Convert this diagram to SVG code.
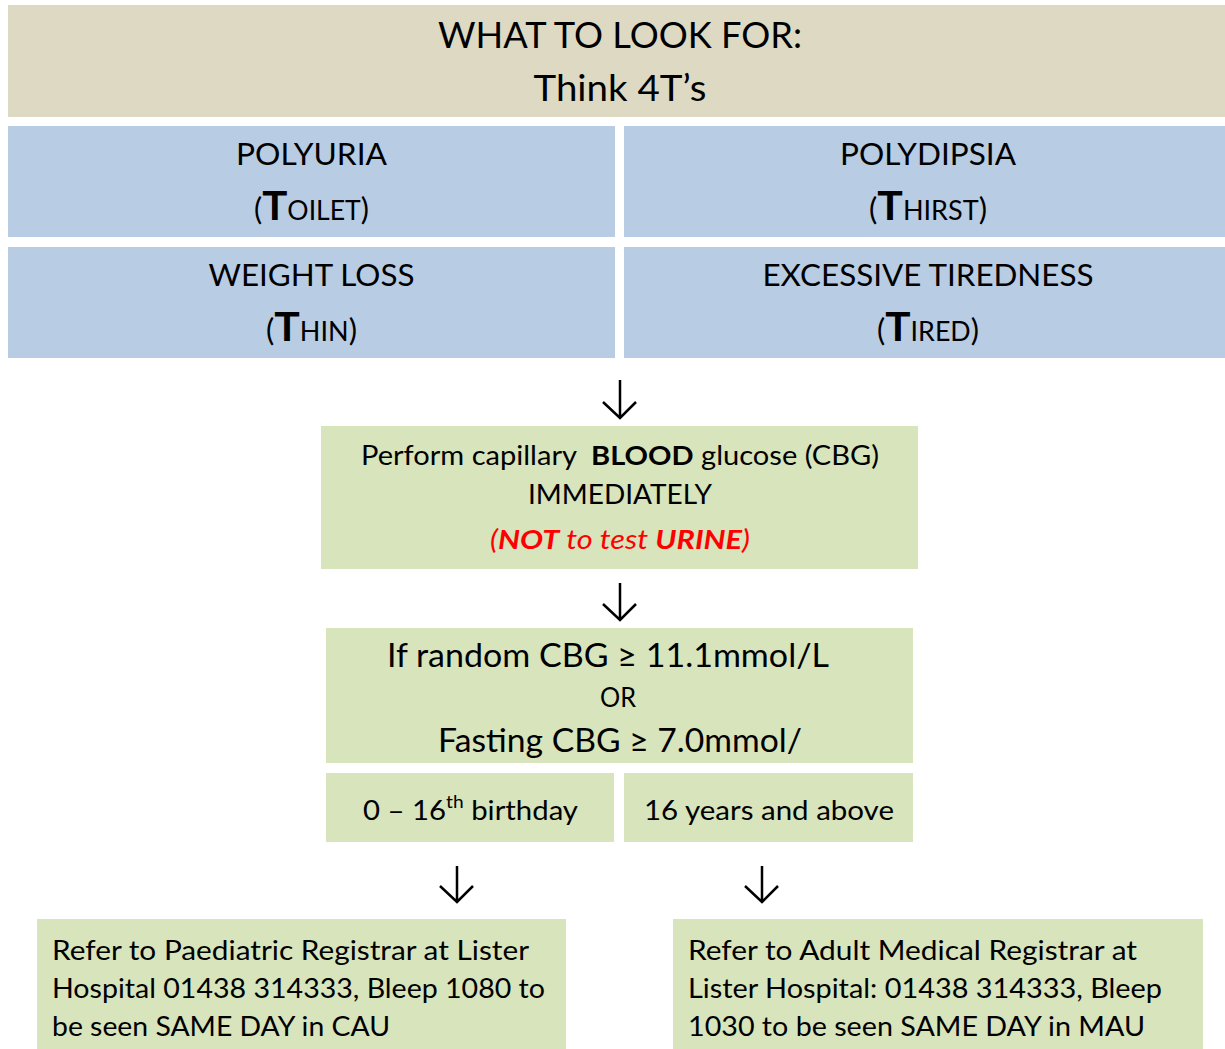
<svg xmlns="http://www.w3.org/2000/svg" width="1225" height="1049" viewBox="0 0 1225 1049">
<style>
text{font-family:Lato,"Open Sans","Liberation Sans",sans-serif;fill:#000;}
.c{text-anchor:middle;}
.hdr{fill:#DDD9C3;}
.blue{fill:#B8CCE4;}
.green{fill:#D7E4BC;}
.h{font-size:36px;}
.s{font-size:30px;}
.sc{font-size:26px;}
.bt{font-size:41px;font-weight:bold;}
.m{font-size:27px;}
.l{font-size:33px;}
.b{font-size:26px;}
.red{fill:#FF0000;font-style:italic;}
.arrow{fill:none;stroke:#000;stroke-width:2.5;stroke-linejoin:miter;}
</style>
<rect width="1225" height="1049" fill="#fff"/>
<g id="header">
<rect class="hdr" x="8" y="5" width="1217" height="112"/>
<text class="c h" x="620" y="48" textLength="364" lengthAdjust="spacingAndGlyphs">WHAT TO LOOK FOR:</text>
<text class="c h" x="620" y="101" textLength="173" lengthAdjust="spacingAndGlyphs">Think 4T’s</text>
</g>
<g id="polyuria">
<rect class="blue" x="8" y="126" width="607" height="111"/>
<text class="c s" x="311.5" y="165" textLength="151" lengthAdjust="spacingAndGlyphs">POLYURIA</text>
<text class="c s" x="311.5" y="220" textLength="115" lengthAdjust="spacingAndGlyphs">(<tspan class="bt">T</tspan><tspan class="sc">OILET</tspan>)</text>
</g>
<g id="polydipsia">
<rect class="blue" x="624" y="126" width="601" height="111"/>
<text class="c s" x="928" y="165" textLength="176" lengthAdjust="spacingAndGlyphs">POLYDIPSIA</text>
<text class="c s" x="928" y="220" textLength="118" lengthAdjust="spacingAndGlyphs">(<tspan class="bt">T</tspan><tspan class="sc">HIRST</tspan>)</text>
</g>
<g id="weightloss">
<rect class="blue" x="8" y="247" width="607" height="111"/>
<text class="c s" x="311.5" y="286" textLength="206" lengthAdjust="spacingAndGlyphs">WEIGHT LOSS</text>
<text class="c s" x="311.5" y="341" textLength="91" lengthAdjust="spacingAndGlyphs">(<tspan class="bt">T</tspan><tspan class="sc">HIN</tspan>)</text>
</g>
<g id="tiredness">
<rect class="blue" x="624" y="247" width="601" height="111"/>
<text class="c s" x="928" y="286" textLength="331" lengthAdjust="spacingAndGlyphs">EXCESSIVE TIREDNESS</text>
<text class="c s" x="928" y="341" textLength="102" lengthAdjust="spacingAndGlyphs">(<tspan class="bt">T</tspan><tspan class="sc">IRED</tspan>)</text>
</g>
<g id="perform-cbg">
<rect class="green" x="321" y="426" width="597" height="143"/>
<text class="c m" x="620" y="465" textLength="518" lengthAdjust="spacingAndGlyphs">Perform capillary&#160; <tspan font-weight="bold">BLOOD</tspan> glucose (CBG)</text>
<text class="c m" x="620" y="504" textLength="184" lengthAdjust="spacingAndGlyphs">IMMEDIATELY</text>
<text class="c m red" x="620" y="549" textLength="260" lengthAdjust="spacingAndGlyphs">(<tspan font-weight="bold">NOT</tspan> to test <tspan font-weight="bold">URINE</tspan>)</text>
</g>
<g id="criteria">
<rect class="green" x="326" y="628" width="587" height="135"/>
<text class="c l" x="608" y="667" textLength="442" lengthAdjust="spacingAndGlyphs">If random CBG ≥ 11.1mmol/L</text>
<text class="c b" x="618" y="707" textLength="36" lengthAdjust="spacingAndGlyphs">OR</text>
<text class="c l" x="620" y="752" textLength="364" lengthAdjust="spacingAndGlyphs">Fasting CBG ≥ 7.0mmol/</text>
</g>
<g id="age-child">
<rect class="green" x="326" y="773" width="288" height="69"/>
<text class="c b" x="470.5" y="820" textLength="215" lengthAdjust="spacingAndGlyphs">0 – 16<tspan font-size="17" dy="-12">th</tspan><tspan dy="12"> birthday</tspan></text>
</g>
<g id="age-adult">
<rect class="green" x="624" y="773" width="289" height="69"/>
<text class="c b" x="769" y="820" textLength="250" lengthAdjust="spacingAndGlyphs">16 years and above</text>
</g>
<g id="refer-paediatric">
<rect class="green" x="37" y="919" width="529" height="130"/>
<text class="b" x="52" y="960" textLength="477" lengthAdjust="spacingAndGlyphs">Refer to Paediatric Registrar at Lister</text>
<text class="b" x="52" y="998" textLength="493" lengthAdjust="spacingAndGlyphs">Hospital 01438 314333, Bleep 1080 to</text>
<text class="b" x="52" y="1036" textLength="338" lengthAdjust="spacingAndGlyphs">be seen SAME DAY in CAU</text>
</g>
<g id="refer-adult">
<rect class="green" x="673" y="919" width="530" height="130"/>
<text class="b" x="688" y="960" textLength="449" lengthAdjust="spacingAndGlyphs">Refer to Adult Medical Registrar at</text>
<text class="b" x="688" y="998" textLength="474" lengthAdjust="spacingAndGlyphs">Lister Hospital: 01438 314333, Bleep</text>
<text class="b" x="688" y="1036" textLength="457" lengthAdjust="spacingAndGlyphs">1030 to be seen SAME DAY in MAU</text>
</g>
<g id="connectors">
<path class="arrow" d="M620 380V418M603 402L620 418L636 402"/>
<path class="arrow" d="M620 583V620M603 604L620 620L636 604"/>
<path class="arrow" d="M457 866V902M440 886L457 902L473 886"/>
<path class="arrow" d="M762 866V902M745 886L762 902L778 886"/>
</g>
</svg>
